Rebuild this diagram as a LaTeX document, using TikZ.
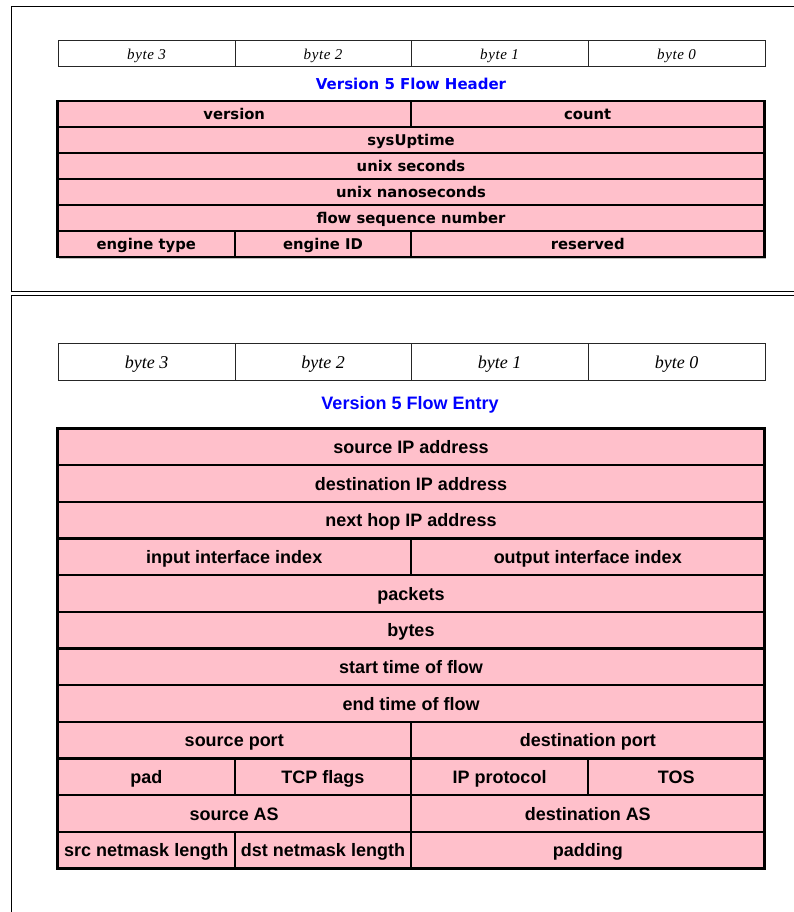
\documentclass[tikz,border=0pt]{standalone}
\usepackage{fontspec}
\setmainfont{Liberation Sans}
\newfontfamily\hdrfont{DejaVu Sans}
\newfontfamily\bytefont{Liberation Serif}[LetterSpace=4]
\newfontfamily\bytefontb{Liberation Serif}
\definecolor{fieldpink}{RGB}{255,192,203}
\definecolor{titleblue}{RGB}{0,0,255}
\newcommand\fcell[7]{%
  \pgfmathsetmacro\cw{#4-#3}\pgfmathsetmacro\ch{#6-#5}%
  \node[#2, minimum width=\cw pt, minimum height=\ch pt, anchor=north west] (#1) at (#3,#5) {#7};}
\tikzset{
  cellbase/.style={rectangle, inner sep=0pt, outer sep=0pt},
  hdrcell/.style={cellbase, draw=black, line width=2.2pt, fill=fieldpink,
     font=\hdrfont\bfseries\fontsize{14.8}{15}\selectfont, text height=12pt, text depth=1pt},
  entcell/.style={cellbase, draw=black, line width=2.4pt, fill=fieldpink,
     font=\bfseries\fontsize{18}{18}\selectfont, text height=14.5pt, text depth=1pt},
  bytecellt/.style={cellbase, draw=black!85, line width=1pt, fill=white,
     font=\bytefont\itshape\fontsize{15}{15}\selectfont, text height=11pt, text depth=0pt},
  bytecellb/.style={cellbase, draw=black!85, line width=1pt, fill=white,
     font=\bytefontb\itshape\fontsize{18}{18}\selectfont, text height=13pt, text depth=0.5pt},
  titlet/.style={text=titleblue, font=\hdrfont\bfseries\fontsize{15}{15}\selectfont},
  titleb/.style={text=titleblue, font=\bfseries\fontsize{18}{18}\selectfont},
  framel/.style={draw=black, line width=1.4pt}
}
\begin{document}
\begin{tikzpicture}[x=1pt,y=-1pt]
\useasboundingbox (0,0) rectangle (794,912);
\fill[white] (0,0) rectangle (794,912);
% frames
\draw[framel] (794,6.5) -- (11.5,6.5) -- (11.5,291.5) -- (794,291.5);
\draw[framel] (794,295.5) -- (11.5,295.5) -- (11.5,912);
% ---------- header ----------
\fcell{tb3}{bytecellt}{58}{235}{41}{67}{byte 3}
\fcell{tb2}{bytecellt}{235}{411}{41}{67}{byte 2}
\fcell{tb1}{bytecellt}{411}{588}{41}{67}{byte 1}
\fcell{tb0}{bytecellt}{588}{765}{41}{67}{byte 0}
\node[titlet] (ttitle) at (411,84) {Version 5 Flow Header};
\fill[black!25] (59,102) rectangle (766,258.5);
\fcell{hversion}{hdrcell}{57.5}{411}{101}{127}{version}
\fcell{hcount}{hdrcell}{411}{764.5}{101}{127}{count}
\fcell{hsys}{hdrcell}{57.5}{764.5}{127}{153}{sysUptime}
\fcell{hsec}{hdrcell}{57.5}{764.5}{153}{179}{unix seconds}
\fcell{hnsec}{hdrcell}{57.5}{764.5}{179}{205}{unix nanoseconds}
\fcell{hseq}{hdrcell}{57.5}{764.5}{205}{231}{flow sequence number}
\fcell{hetype}{hdrcell}{57.5}{235}{231}{257}{engine type}
\fcell{heid}{hdrcell}{235}{411}{231}{257}{engine ID}
\fcell{hres}{hdrcell}{411}{764.5}{231}{257}{reserved}
% ---------- entry ----------
\fcell{bb3}{bytecellb}{58}{235}{343.5}{380.5}{byte 3}
\fcell{bb2}{bytecellb}{235}{411}{343.5}{380.5}{byte 2}
\fcell{bb1}{bytecellb}{411}{588}{343.5}{380.5}{byte 1}
\fcell{bb0}{bytecellb}{588}{765}{343.5}{380.5}{byte 0}
\node[titleb] (btitle) at (410,404.5) {Version 5 Flow Entry};
\fill[black!25] (59,430) rectangle (766,870);
\fcell{esrcip}{entcell}{57.5}{764.5}{428.5}{465.2}{source IP address}
\fcell{edstip}{entcell}{57.5}{764.5}{465.2}{501.8}{destination IP address}
\fcell{enhop}{entcell}{57.5}{764.5}{501.8}{538.5}{next hop IP address}
\fcell{ein}{entcell}{57.5}{411}{538.5}{575.2}{input interface index}
\fcell{eout}{entcell}{411}{764.5}{538.5}{575.2}{output interface index}
\fcell{epkts}{entcell}{57.5}{764.5}{575.2}{611.8}{packets}
\fcell{ebytes}{entcell}{57.5}{764.5}{611.8}{648.5}{bytes}
\fcell{estart}{entcell}{57.5}{764.5}{648.5}{685.2}{start time of flow}
\fcell{eend}{entcell}{57.5}{764.5}{685.2}{721.8}{end time of flow}
\fcell{esport}{entcell}{57.5}{411}{721.8}{758.5}{source port}
\fcell{edport}{entcell}{411}{764.5}{721.8}{758.5}{destination port}
\fcell{epad}{entcell}{57.5}{235}{758.5}{795.2}{pad}
\fcell{etcp}{entcell}{235}{411}{758.5}{795.2}{TCP flags}
\fcell{eproto}{entcell}{411}{588}{758.5}{795.2}{IP protocol}
\fcell{etos}{entcell}{588}{764.5}{758.5}{795.2}{TOS}
\fcell{esas}{entcell}{57.5}{411}{795.2}{831.8}{source AS}
\fcell{edas}{entcell}{411}{764.5}{795.2}{831.8}{destination AS}
\fcell{esmask}{entcell}{57.5}{235}{831.8}{868.5}{src netmask length}
\fcell{edmask}{entcell}{235}{411}{831.8}{868.5}{dst netmask length}
\fcell{epadding}{entcell}{411}{764.5}{831.8}{868.5}{padding}
\end{tikzpicture}
\end{document}
